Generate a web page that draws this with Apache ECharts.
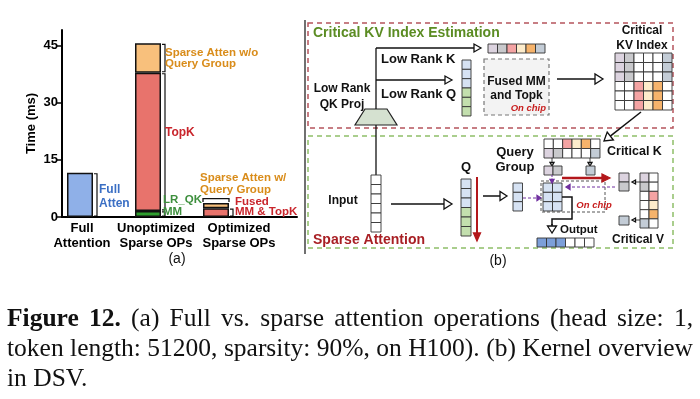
<!DOCTYPE html>
<html><head><meta charset="utf-8">
<script src="https://cdn.jsdelivr.net/npm/echarts@6/dist/echarts.min.js"></script>
<style>html,body{margin:0;padding:0;background:#fff}#c{width:700px;height:399px}</style>
</head><body><div id="c"></div>
<script>
// ---------- data ----------
const categories = ['Full\nAttention', 'Unoptimized\nSparse OPs', 'Optimized\nSparse OPs'];
const fullAtten = [11.6, null, null];
const lrQkMM = [null, 1.6, null];
const topK = [null, 36.2, null];
const sparseAttenNoQG = [null, 7.7, null];
const fusedMMTopK = [null, null, 2.3];
const sparseAttenQG = [null, null, 1.35];
const yTicks = [0, 15, 30, 45];
const yMax = 49;

// ---------- styles ----------
const SANS = '"Liberation Sans", Arial, Helvetica, sans-serif';
const SERIF = '"Liberation Serif", "Times New Roman", serif';
const C = {
  blue: '#8fb0e8', red: '#e8736c', orange: '#f8c07c', green: '#2e9e2e',
  tBlue: '#3b6fc4', tOrange: '#d98c1a', tRed: '#c9252c', tGreen: '#3d8f3d'
};
const LAV = '#dcd3df', GRY = '#c9c9cc', PNK = '#f4a3a3', LYL = '#fdeccb', ORG = '#f6b36b',
      SLT = '#c3ccd6', BLU = '#d6e2f3', GRN = '#c3dfae', W = '#ffffff', OB = '#7c9fd9';

const chart = echarts.init(document.getElementById('c'), null, {renderer: 'canvas'});

function bar(name, data, color) {
  return {type: 'bar', name, data, stack: 'total', xAxisIndex: 1, yAxisIndex: 1, barWidth: 26,
    itemStyle: {color, borderColor: '#111', borderWidth: 1.5}};
}
const labelPad = [4, 16, 46];
const rich = {};
labelPad.forEach((p, i) => rich['s' + i] = {padding: [0, 0, 0, p], fontWeight: 'bold', fontSize: 13, fontFamily: SANS, color: '#000', lineHeight: 15});

chart.setOption({
  animation: false,
  backgroundColor: '#fff',
  grid: [
    {left: 62, top: 30, width: 235, height: 187},
    {left: 46, top: 30, width: 204, height: 187}
  ],
  xAxis: [
    {gridIndex: 0, type: 'value', min: 0, max: 1, axisLine: {show: true, lineStyle: {color: '#000', width: 2}},
      axisTick: {show: false}, axisLabel: {show: false}, splitLine: {show: false}},
    {gridIndex: 1, type: 'category', data: categories, axisLine: {show: false}, axisTick: {show: false},
      axisLabel: {interval: 0, margin: 4, formatter: (v, i) => v.split('\n').map(l => `{s${i}|${l}}`).join('\n'), rich}}
  ],
  yAxis: [
    {gridIndex: 0, type: 'value', min: 0, max: yMax, interval: 15,
      axisLine: {show: true, lineStyle: {color: '#000', width: 2}},
      axisTick: {show: true, length: 5, customValues: yTicks, lineStyle: {color: '#000', width: 1.5}},
      axisLabel: {customValues: yTicks, color: '#000', fontWeight: 'bold', fontSize: 13, fontFamily: SANS, margin: 4},
      splitLine: {show: false},
      name: 'Time (ms)', nameLocation: 'middle', nameGap: 24,
      nameTextStyle: {color: '#000', fontWeight: 'bold', fontSize: 13, fontFamily: SANS}},
    {gridIndex: 1, type: 'value', min: 0, max: yMax, show: false}
  ],
  series: [
    bar('Full Attention', fullAtten, C.blue),
    bar('LR_QK MM', lrQkMM, C.green),
    bar('TopK', topK, C.red),
    bar('Sparse Atten w/o Query Group', sparseAttenNoQG, C.orange),
    bar('Fused MM & TopK', fusedMMTopK, C.red),
    bar('Sparse Atten w/ Query Group', sparseAttenQG, C.orange)
  ]
});

// ---------- graphic helpers ----------
const G = [];
function rect(x, y, w, h, fill, stroke, lw, dash) {
  G.push({type: 'rect', silent: true, shape: {x, y, width: w, height: h},
    style: {fill: fill || null, stroke: stroke || null, lineWidth: lw || 1, lineDash: dash || null}});
}
function poly(points, stroke, lw, dash) {
  G.push({type: 'polyline', silent: true, shape: {points},
    style: {fill: null, stroke, lineWidth: lw || 1, lineDash: dash || null}});
}
function polygon(points, fill, stroke, lw) {
  G.push({type: 'polygon', silent: true, shape: {points}, style: {fill, stroke, lineWidth: lw || 1}});
}
function arrow(x1, y1, x2, y2, o = {}) {
  const color = o.color || '#111', lw = o.lw || 1.5, len = o.len || 8, hw = o.hw || 4.5;
  const dx = x2 - x1, dy = y2 - y1, L = Math.hypot(dx, dy), ux = dx / L, uy = dy / L;
  const bx = x2 - ux * len, by = y2 - uy * len;
  poly([[x1, y1], [bx, by]], color, lw, o.dash);
  polygon([[x2, y2], [bx - uy * hw, by + ux * hw], [bx + uy * hw, by - ux * hw]],
    o.filled ? color : '#fff', color, o.headLw || 1.3);
}
function txt(x, y, s, size, color, o = {}) {
  G.push({type: 'text', silent: true, z: 10, style: {x, y, text: s, fill: color || '#111',
    font: `${o.italic ? 'italic ' : ''}${o.weight || 'bold'} ${size}px ${o.family || SANS}`,
    align: o.align || 'left', verticalAlign: 'middle'}});
}
function cells(x, y, cw, ch, m) {
  m.forEach((row, r) => row.forEach((c, k) => rect(x + k * cw, y + r * ch, cw, ch, c, '#333', 0.9)));
}
const col = a => a.map(c => [c]);

// ---------- bar annotations ----------
function px(ci, v) { return chart.convertToPixel({gridIndex: 1}, [ci, v]); }
function bracketRight(ci, v0, v1) {
  const xr = px(ci, 0)[0] + 13, yb = px(ci, v0)[1] - 1, yt = px(ci, v1)[1] + 1;
  poly([[xr + 1, yt], [xr + 4, yt], [xr + 4, yb], [xr + 1, yb]], '#111', 1.2);
}
bracketRight(0, 0, fullAtten[0]);
const u1 = lrQkMM[1], u2 = u1 + topK[1], u3 = u2 + sparseAttenNoQG[1];
bracketRight(1, 0, u1);
bracketRight(1, u1, u2);
bracketRight(1, u2, u3);
bracketRight(2, 0, fusedMMTopK[2]);
(function () {
  const xc = px(2, 0)[0], yt = px(2, fusedMMTopK[2] + sparseAttenQG[2])[1];
  poly([[xc - 13, yt - 1], [xc - 13, yt - 4.5], [xc + 13, yt - 4.5], [xc + 13, yt - 1]], '#111', 1.3);
})();

txt(99, 190, 'Full', 12, C.tBlue); txt(99, 204, 'Atten', 12, C.tBlue);
txt(165, 53, 'Sparse Atten w/o', 11.5, C.tOrange); txt(165, 64, 'Query Group', 11.5, C.tOrange);
txt(165, 133, 'TopK', 12, C.tRed);
txt(163, 200, 'LR_QK', 11.5, C.tGreen); txt(163, 211.5, 'MM', 11.5, C.tGreen);
txt(200, 178, 'Sparse Atten w/', 11.5, C.tOrange); txt(200, 190, 'Query Group', 11.5, C.tOrange);
txt(235, 201.5, 'Fused', 11.5, C.tRed); txt(235, 211.5, 'MM & TopK', 11.5, C.tRed);
txt(177, 259, '(a)', 14, '#111', {weight: 'normal', align: 'center'});

// ---------- diagram (b) ----------
poly([[305, 20], [305, 254]], '#111', 1.2);
rect(308, 23, 365, 105, null, '#b5545c', 1.5, [5, 4]);
rect(308, 136, 365, 112, null, '#8fbf68', 1.5, [5, 4]);
txt(313, 33, 'Critical KV Index Estimation', 14, '#5b8c23');

polygon([[365, 109], [387, 109], [397, 125], [355, 125]], '#d5e1d0', '#222', 1.2);
poly([[376, 109], [376, 48]], '#111', 1.3);
arrow(376, 48, 481, 48, {lw: 1.3, len: 7, hw: 4});
arrow(376, 80, 452, 80, {lw: 1.3, len: 7, hw: 4});
poly([[376, 125], [376, 175]], '#111', 1.3);
txt(342, 89, 'Low Rank', 12, '#111', {align: 'center'});
txt(342, 105, 'QK Proj', 12, '#111', {align: 'center'});
txt(381, 59, 'Low Rank K', 13, '#111');
txt(381, 94, 'Low Rank Q', 13, '#111');
cells(488, 44, 9.5, 9, [[LAV, GRY, PNK, LYL, ORG, SLT]]);
cells(462, 60, 9, 9.33, col([BLU, BLU, BLU, GRN, GRN, GRN]));
rect(484, 59, 65, 56, '#f3f3f3', '#777', 1.2, [4, 3]);
txt(516.5, 82, 'Fused MM', 12, '#111', {align: 'center'});
txt(516.5, 96, 'and Topk', 12, '#111', {align: 'center'});
txt(546, 108, 'On chip', 9.5, '#c81e1e', {italic: true, align: 'right'});
arrow(557, 79, 603, 79, {lw: 1.5, len: 8, hw: 5});
txt(642, 31, 'Critical', 12, '#111', {align: 'center'});
txt(642, 46, 'KV Index', 12, '#111', {align: 'center'});
cells(615, 53, 9.5, 9.5, [
  [LAV, GRY, W, W, W, SLT], [LAV, GRY, W, W, W, SLT], [LAV, GRY, W, W, W, SLT],
  [W, W, PNK, LYL, ORG, W], [W, W, PNK, LYL, ORG, W], [W, W, PNK, LYL, ORG, W]]);
arrow(641, 112, 604, 141, {lw: 1.5, len: 8, hw: 5});

cells(371, 175, 10, 9.5, col([W, W, W, W, W, W]));
txt(343, 201, 'Input', 12, '#111', {align: 'center'});
arrow(391, 204, 452, 204, {lw: 1.5, len: 8, hw: 5});
cells(461, 179, 10, 9.5, col([BLU, BLU, BLU, GRN, GRN, GRN]));
txt(466, 167, 'Q', 13, '#111', {align: 'center'});
arrow(477, 177, 477, 241, {color: '#b3171b', lw: 2, len: 8, hw: 3.5, filled: true});
txt(313, 240, 'Sparse Attention', 14, '#a81f24');
arrow(483, 196, 507, 196, {lw: 1.5, len: 7, hw: 4.5});
txt(515, 152, 'Query', 13, '#111', {align: 'center'});
txt(515, 167, 'Group', 13, '#111', {align: 'center'});
cells(513, 183, 9.5, 9.33, col([BLU, BLU, BLU]));
arrow(523, 198, 541, 198, {color: '#7030a0', lw: 1, len: 4, hw: 2.5, filled: true, dash: [3, 2]});
rect(541, 181, 64, 31, null, '#555', 1, [3, 2]);
cells(543, 183, 9.5, 9.33, [[BLU, BLU], [BLU, BLU], [BLU, BLU]]);
txt(594, 205, 'On chip', 9.5, '#c81e1e', {italic: true, align: 'center'});
cells(544, 139, 9.33, 9.5, [[W, W, PNK, LYL, ORG, W], [LAV, GRY, W, W, W, SLT]]);
txt(607, 152, 'Critical K', 12.5, '#111');
arrow(552, 158, 552, 166, {lw: 0.8, len: 3.5, hw: 2});
arrow(590, 158, 590, 166, {lw: 0.8, len: 3.5, hw: 2});
cells(544, 166, 9, 9, [[LAV, GRY]]);
cells(586, 166, 9, 9, [[SLT]]);
arrow(552, 175, 552, 183, {color: '#7030a0', lw: 1, len: 3.5, hw: 2, filled: true, dash: [2, 1.5]});
arrow(562, 178, 610, 178, {color: '#b3171b', lw: 2.5, len: 8, hw: 4, filled: true});
arrow(615, 187, 566, 187, {color: '#7030a0', lw: 1, len: 4, hw: 2.5, filled: true, dash: [3, 2]});
poly([[562, 197], [572, 197], [572, 219], [552, 219], [552, 225]], '#111', 1.5);
arrow(552, 224, 552, 233, {lw: 1.5, len: 7, hw: 4.5});
txt(560, 230, 'Output', 11.5, '#111');
cells(537, 238, 9.5, 9, [[OB, OB, OB, W, W, W]]);
cells(640, 173, 9, 9.17, [[LAV, W], [GRY, W], [W, PNK], [W, LYL], [W, ORG], [SLT, W]]);
txt(638, 240, 'Critical V', 12, '#111', {align: 'center'});
arrow(640, 182, 632, 182, {lw: 0.8, len: 3.5, hw: 2});
arrow(640, 220, 632, 220, {lw: 0.8, len: 3.5, hw: 2});
cells(619, 173, 10, 9, col([LAV, GRY]));
cells(619, 216, 10, 9, [[SLT]]);
txt(498, 261, '(b)', 14, '#111', {weight: 'normal', align: 'center'});

// ---------- caption (justified lines) ----------
const capLine1 = [['Figure', true], ['12.', true], ['(a)'], ['Full'], ['vs.'], ['sparse'], ['attention'], ['operations'], ['(head'], ['size:'], ['1,']];
const capLine2 = 'token length: 51200, sparsity: 90%, on H100). (b) Kernel overview'.split(' ').map(w => [w]);
const capLine3 = 'in DSV.'.split(' ').map(w => [w]);
const ctx = document.createElement('canvas').getContext('2d');
const fontOf = (b, s) => `${b ? 'bold' : 'normal'} ${s}px ${SERIF}`;
function natWidth(words, s) {
  let w = 0;
  words.forEach(([t, b], i) => { ctx.font = fontOf(b, s); w += ctx.measureText(t).width; });
  ctx.font = fontOf(false, s);
  return w + ctx.measureText(' ').width * (words.length - 1);
}
const capW = 686, capX = 7;
const capSize = Math.floor(20 * capW / Math.max(natWidth(capLine1, 20), natWidth(capLine2, 20)) * 10) / 10;
function placeLine(words, y, justify) {
  const widths = words.map(([t, b]) => { ctx.font = fontOf(b, capSize); return ctx.measureText(t).width; });
  const total = widths.reduce((a, b) => a + b, 0);
  ctx.font = fontOf(false, capSize);
  const gap = justify ? (capW - total) / (words.length - 1) : ctx.measureText(' ').width;
  let x = capX;
  words.forEach(([t, b], i) => {
    G.push({type: 'text', silent: true, style: {x, y, text: t, fill: '#111', font: fontOf(b, capSize), verticalAlign: 'middle'}});
    x += widths[i] + gap;
  });
}
placeLine(capLine1, 319, true);
placeLine(capLine2, 349, true);
placeLine(capLine3, 379, false);

chart.setOption({graphic: {elements: G}});
</script></body></html>
